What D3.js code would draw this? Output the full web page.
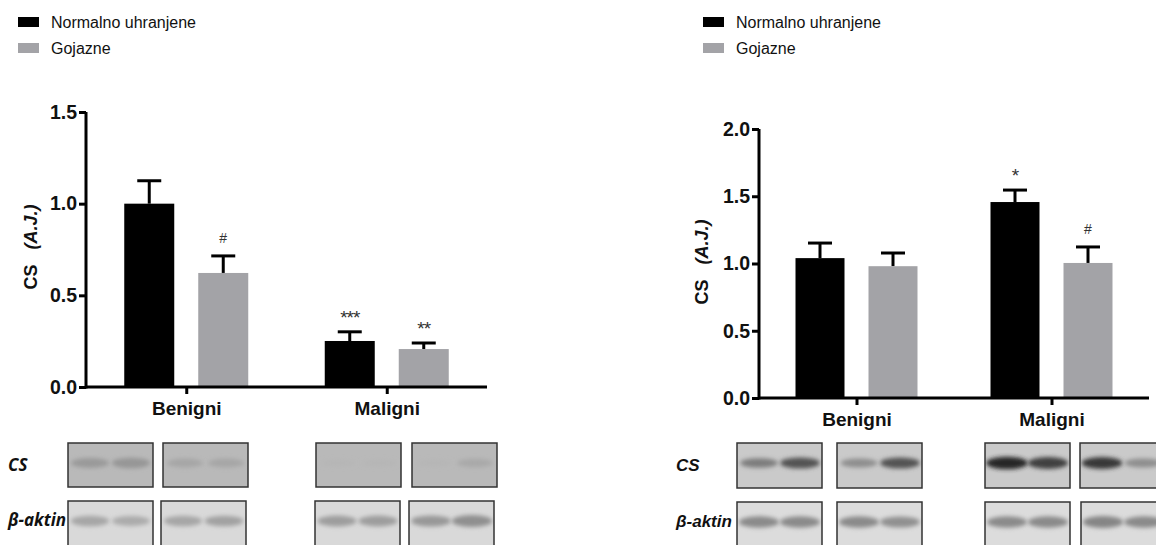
<!DOCTYPE html>
<html>
<head>
<meta charset="utf-8">
<script src="https://cdn.jsdelivr.net/npm/d3@7"></script>
<style>
  body { margin: 0; background: #fff; }
  svg { display: block; font-family: "Liberation Sans", Arial, sans-serif; }
</style>
</head>
<body>
<div id="chart"></div>
<script>
// data
var groups = ['Benigni', 'Maligni']
var seriesNames = ['Normalno uhranjene', 'Gojazne']
var seriesColors = ['#000000', '#a3a3a7']

// left panel
var leftNormal = [1.00, 0.251]
var leftNormalErr = [0.125, 0.05]
var leftObese = [0.622, 0.207]
var leftObeseErr = [0.093, 0.033]
var leftNormalMarks = ['', '***']
var leftObeseMarks = ['#', '**']
var leftTicks = [0, 0.5, 1.0, 1.5]

// right panel
var rightNormal = [1.04, 1.457]
var rightNormalErr = [0.112, 0.089]
var rightObese = [0.98, 1.004]
var rightObeseErr = [0.098, 0.119]
var rightNormalMarks = ['', '*']
var rightObeseMarks = ['', '#']
var rightTicks = [0, 0.5, 1.0, 1.5, 2.0]

// western blot band strength (0..1), two lanes per box
var leftCsBands = [[0.5, 0.55], [0.3, 0.3], [0.04, 0.04], [0.04, 0.25]]
var leftActinBands = [[0.55, 0.5], [0.55, 0.6], [0.65, 0.65], [0.7, 0.8]]
var rightCsBands = [[0.45, 0.7], [0.35, 0.7], [0.95, 0.8], [0.85, 0.35]]
var rightActinBands = [[0.75, 0.75], [0.75, 0.7], [0.75, 0.75], [0.8, 0.75]]

var W = 1156, H = 545

var svg = d3.select('#chart').append('svg')
  .attr('width', W)
  .attr('height', H)

var defs = svg.append('defs')
defs.append('filter').attr('id', 'blur')
  .attr('x', '-50%').attr('y', '-100%').attr('width', '200%').attr('height', '300%')
  .append('feGaussianBlur').attr('stdDeviation', 2.2)

function drawPanel(opt) {
  var g = svg.append('g')

  var y = d3.scaleLinear().domain(opt.yDomain).range([opt.y0, opt.y1])
  var x = d3.scalePoint().domain(groups).range([opt.xLeft, opt.xRight]).padding(0.5)
  var xs = d3.scalePoint().domain(seriesNames).range([-opt.offset, opt.offset])
  var barW = opt.barW

  // legend
  var leg = g.append('g').attr('transform', 'translate(' + opt.legendX + ',17)')
  seriesNames.forEach(function(name, i) {
    leg.append('rect')
      .attr('x', 0).attr('y', i * 26)
      .attr('width', 21).attr('height', 10)
      .attr('fill', seriesColors[i])
    leg.append('text')
      .attr('x', 33).attr('y', i * 26 + 5)
      .attr('dy', '0.35em')
      .style('font-size', '16px')
      .attr('fill', '#111')
      .text(name)
  })

  var series = [
    { name: seriesNames[0], vals: opt.normal, errs: opt.normalErr, marks: opt.normalMarks, color: seriesColors[0] },
    { name: seriesNames[1], vals: opt.obese, errs: opt.obeseErr, marks: opt.obeseMarks, color: seriesColors[1] }
  ]

  series.forEach(function(s) {
    groups.forEach(function(grp, j) {
      var cx = x(grp) + xs(s.name)
      var top = y(s.vals[j])
      var errTop = y(s.vals[j] + s.errs[j])
      // error bar (upward only)
      g.append('line')
        .attr('x1', cx).attr('x2', cx)
        .attr('y1', top).attr('y2', errTop)
        .attr('stroke', '#000').attr('stroke-width', 3)
      g.append('line')
        .attr('x1', cx - 12).attr('x2', cx + 12)
        .attr('y1', errTop).attr('y2', errTop)
        .attr('stroke', '#000').attr('stroke-width', 3)
      g.append('rect')
        .attr('x', cx - barW / 2)
        .attr('y', top)
        .attr('width', barW)
        .attr('height', y(0) - top)
        .attr('fill', s.color)
      if (s.marks[j]) {
        var isHash = s.marks[j] == '#'
        g.append('text')
          .attr('x', cx)
          .attr('y', errTop - (isHash ? 13 : 8))
          .attr('text-anchor', 'middle')
          .style('font-size', isHash ? '14px' : '19px')
          .style('letter-spacing', isHash ? '0px' : '-1px')
          .attr('fill', '#333')
          .text(s.marks[j])
      }
    })
  })

  // y axis
  var yAxis = d3.axisLeft(y).tickValues(opt.ticks).tickFormat(d3.format('.1f')).tickSize(7).tickPadding(2)
  var ya = g.append('g')
    .attr('transform', 'translate(' + opt.xLeft + ',0)')
    .call(yAxis)
  ya.select('.domain').attr('stroke-width', 3).attr('d', 'M0,' + (opt.y0 + 1.5) + 'V' + opt.y1)
  ya.selectAll('.tick line').attr('stroke-width', 3)
  ya.selectAll('.tick text')
    .style('font-size', '19.5px').style('font-weight', 'bold').style('font-family', '"Liberation Sans", Arial, sans-serif')
    .attr('fill', '#111')

  // x axis
  var xAxis = d3.axisBottom(x).tickSize(7).tickPadding(8)
  var xa = g.append('g')
    .attr('transform', 'translate(0,' + opt.y0 + ')')
    .call(xAxis)
  xa.select('.domain').attr('stroke-width', 3).attr('d', 'M' + opt.xLeft + ',0H' + opt.xRight)
  xa.selectAll('.tick line').attr('stroke-width', 3)
  xa.selectAll('.tick text')
    .style('font-size', '19px').style('font-weight', 'bold').style('font-family', '"Liberation Sans", Arial, sans-serif')
    .attr('fill', '#111')

  // y label
  var yl = g.append('text')
    .attr('transform', 'translate(' + opt.labelX + ',' + opt.labelY + ') rotate(-90)')
    .attr('text-anchor', 'middle')
    .attr('dy', '0.35em')
    .style('font-size', '18px').style('font-weight', 'bold')
    .attr('fill', '#111')
  yl.append('tspan').text('CS')
  yl.append('tspan').style('font-style', 'italic').text('\u00a0\u00a0\u00a0(A.J.)')

  // blots
  drawBlotRow(g, opt.blotX, opt.csY, opt.csH, opt.csBands, opt.csBg, opt.csInk, opt.csShift)
  drawBlotRow(g, opt.blotX, opt.actinY, opt.actinH, opt.actinBands, opt.actinBg, opt.actinInk, opt.actinShift)

  g.append('text').attr('x', opt.blotLabelX).attr('y', (opt.csY + opt.csH / 2))
    .attr('dy', '0.35em')
    .style('font-size', '17px').style('font-weight', 'bold').style('font-style', 'italic')
    .style('font-family', opt.blotFont)
    .attr('fill', '#111')
    .text('CS')
  g.append('text').attr('x', opt.blotLabelX).attr('y', opt.actinY + 19)
    .attr('dy', '0.35em')
    .style('font-size', '17px').style('font-weight', 'bold').style('font-style', 'italic')
    .style('font-family', opt.blotFont)
    .attr('fill', '#111')
    .text('\u03b2-aktin')
}

function drawBlotRow(g, xs, y0, h, bands, bg, ink, shift) {
  var boxW = 85
  var lane = d3.scalePoint().domain([0, 1]).range([22, 63])
  var inkScale = d3.scaleLinear().domain([0, 1]).range([bg, ink])
  bands.forEach(function(b, i) {
    var bx = xs[i] + (shift ? shift[i] : 0)
    var box = g.append('g').attr('transform', 'translate(' + bx + ',' + y0 + ')')
    var cid = 'clip' + Math.round(bx) + '_' + y0
    defs.append('clipPath').attr('id', cid)
      .append('rect').attr('width', boxW).attr('height', h)
    box.append('rect')
      .attr('width', boxW).attr('height', h)
      .attr('fill', bg)
    var inner = box.append('g').attr('clip-path', 'url(#' + cid + ')')
    b.forEach(function(v, k) {
      inner.append('ellipse')
        .attr('cx', lane(k))
        .attr('cy', 20)
        .attr('rx', 17 + v * 4)
        .attr('ry', 3.5 + v * 3)
        .attr('fill', inkScale(v))
        .attr('filter', 'url(#blur)')
    })
    box.append('rect')
      .attr('width', boxW).attr('height', h)
      .attr('fill', 'none')
      .attr('stroke', '#333').attr('stroke-width', 1.5)
  })
}

drawPanel({
  yDomain: [0, 1.5], y0: 387, y1: 112, ticks: leftTicks,
  xLeft: 86, xRight: 487, offset: 37, barW: 50,
  legendX: 18, labelX: 31, labelY: 247,
  normal: leftNormal, normalErr: leftNormalErr, normalMarks: leftNormalMarks,
  obese: leftObese, obeseErr: leftObeseErr, obeseMarks: leftObeseMarks,
  blotX: [68, 163, 316, 412], actinShift: [0, -2, -1, -3],
  csY: 443, csH: 44, csBands: leftCsBands, csBg: '#b9b9b9', csInk: '#7a7a7a',
  actinY: 501, actinH: 50, actinBands: leftActinBands, actinBg: '#d9d9d9', actinInk: '#7c7c7c',
  blotLabelX: 8, blotFont: '"Open Sans", "DejaVu Sans", sans-serif'
})

drawPanel({
  yDomain: [0, 2.0], y0: 398, y1: 129, ticks: rightTicks,
  xLeft: 759, xRight: 1149, offset: 36.5, barW: 49,
  legendX: 703, labelX: 702, labelY: 262,
  normal: rightNormal, normalErr: rightNormalErr, normalMarks: rightNormalMarks,
  obese: rightObese, obeseErr: rightObeseErr, obeseMarks: rightObeseMarks,
  blotX: [737, 837, 985, 1080], actinShift: [0, 0, 0, 1],
  csY: 443, csH: 45, csBands: rightCsBands, csBg: '#cacaca', csInk: '#1f1f1f',
  actinY: 502, actinH: 50, actinBands: rightActinBands, actinBg: '#dcdcdc', actinInk: '#6f6f6f',
  blotLabelX: 676, blotFont: '"Liberation Sans", Arial, sans-serif'
})
</script>
</body>
</html>
